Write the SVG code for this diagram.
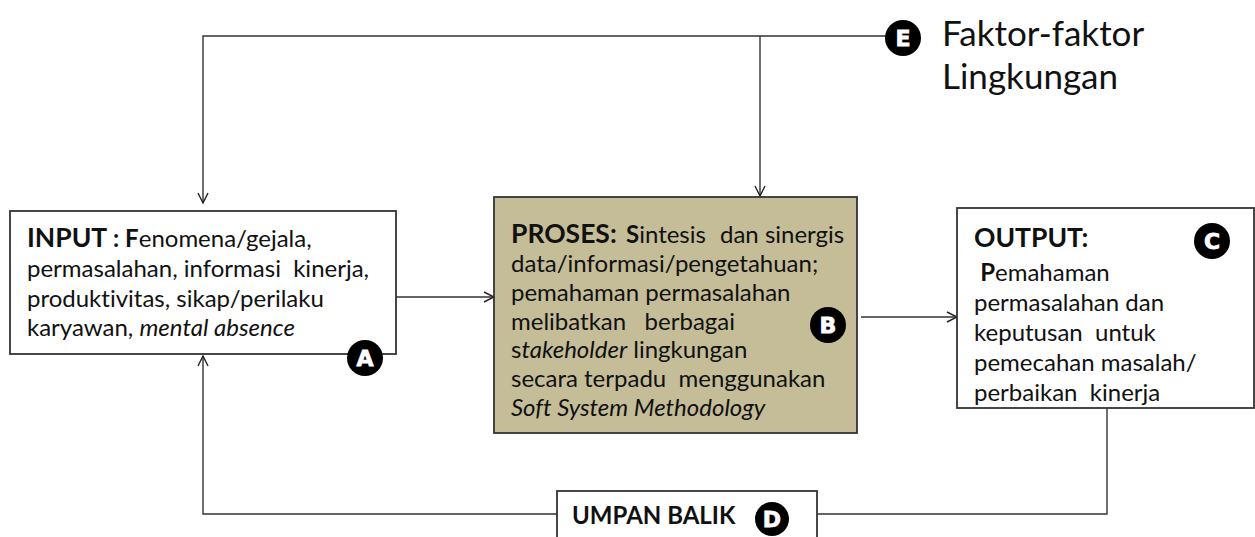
<svg xmlns="http://www.w3.org/2000/svg" width="1255" height="537" viewBox="0 0 1255 537">
  <defs>
    <marker id="arrow" viewBox="0 0 12 12" refX="11" refY="6" markerWidth="12" markerHeight="12" markerUnits="userSpaceOnUse" orient="auto">
      <path d="M1,1 L11,6 L1,11" fill="none" stroke="#222" stroke-width="1.4"/>
    </marker>
    <style>
      .box { fill: #ffffff; stroke: #333333; stroke-width: 1.8; }
      .proc { fill: #C4BD97; stroke: #333333; stroke-width: 1.8; }
      .txt { font-family: Lato, "Open Sans", sans-serif; font-size: 24px; fill: #111111; font-variant-ligatures: none; }
      .b { font-weight: bold; }
      .i { font-style: italic; }
      .ttl { font-weight: bold; font-size: 26.5px; }
      .wire { fill: none; stroke: #333333; stroke-width: 1.4; }
      .badge { fill: #000000; }
      .badge-l { font-family: "DejaVu Sans", sans-serif; font-weight: bold; font-size: 22px; fill: #ffffff; stroke: #ffffff; stroke-width: 0.8; text-anchor: middle; }
      .env { font-family: Lato, "Open Sans", sans-serif; font-size: 35px; fill: #111111; font-variant-ligatures: none; }
    </style>
  </defs>

  <rect width="1255" height="537" fill="#ffffff"/>

  <!-- connectors -->
  <g id="connectors">
    <path class="wire" d="M886,36 L203,36 L203,203" marker-end="url(#arrow)"/>
    <path class="wire" d="M760,36 L760,196" marker-end="url(#arrow)"/>
    <path class="wire" d="M396,297 L494,297" marker-end="url(#arrow)"/>
    <path class="wire" d="M861,317 L957,317" marker-end="url(#arrow)"/>
    <path class="wire" d="M1107,408 L1107,514 L817,514"/>
    <path class="wire" d="M557,514 L203,514 L203,356" marker-end="url(#arrow)"/>
  </g>

  <!-- A: input -->
  <g id="node-input">
    <rect class="box" x="10" y="211" width="386" height="143"/>
    <text class="txt" x="27" y="247"><tspan class="ttl">INPUT</tspan><tspan class="b"> : F</tspan>enomena/gejala,</text>
    <text class="txt" x="27" y="277" xml:space="preserve">permasalahan, informasi  kinerja,</text>
    <text class="txt" x="27" y="307">produktivitas, sikap/perilaku</text>
    <text class="txt" x="27" y="336">karyawan, <tspan class="i">mental absence</tspan></text>
    <circle class="badge" cx="365" cy="358" r="18"/>
    <text class="badge-l" x="365" y="366">A</text>
  </g>

  <!-- B: process -->
  <g id="node-process">
    <rect class="proc" x="494" y="197" width="363" height="236"/>
    <text class="txt" x="511" y="243"><tspan class="ttl">PROSES:</tspan><tspan x="626" class="b">S</tspan>intesis<tspan x="720">dan sinergis</tspan></text>
    <text class="txt" x="511" y="272">data/informasi/pengetahuan;</text>
    <text class="txt" x="511" y="301">pemahaman permasalahan</text>
    <text class="txt" x="511" y="330" xml:space="preserve">melibatkan   berbagai</text>
    <text class="txt" x="511" y="358">s<tspan class="i">takeholder</tspan> lingkungan</text>
    <text class="txt" x="511" y="387" xml:space="preserve">secara terpadu  menggunakan</text>
    <text class="txt i" x="511" y="416">Soft System Methodology</text>
    <circle class="badge" cx="828" cy="325" r="18"/>
    <text class="badge-l" x="828" y="333">B</text>
  </g>

  <!-- C: output -->
  <g id="node-output">
    <rect class="box" x="957" y="208" width="297" height="200"/>
    <text class="txt ttl" x="974" y="247">OUTPUT:</text>
    <text class="txt" x="974" y="281" xml:space="preserve"> <tspan class="b">P</tspan>emahaman</text>
    <text class="txt" x="974" y="311">permasalahan dan</text>
    <text class="txt" x="974" y="341" xml:space="preserve">keputusan  untuk</text>
    <text class="txt" x="974" y="371">pemecahan masalah/</text>
    <text class="txt" x="974" y="401" xml:space="preserve">perbaikan  kinerja</text>
    <circle class="badge" cx="1212" cy="241" r="18"/>
    <text class="badge-l" x="1212" y="249">C</text>
  </g>

  <!-- D: feedback -->
  <g id="node-feedback">
    <rect class="box" x="557" y="491" width="260" height="60"/>
    <text class="txt b" x="572" y="524" font-size="22.5">UMPAN BALIK</text>
    <circle class="badge" cx="772" cy="519" r="17"/>
    <text class="badge-l" x="772" y="527">D</text>
  </g>

  <!-- E: environment -->
  <g id="node-environment">
    <circle class="badge" cx="903" cy="38" r="18"/>
    <text class="badge-l" x="903" y="46">E</text>
    <text class="env" x="942" y="46">Faktor-faktor</text>
    <text class="env" x="942" y="89">Lingkungan</text>
  </g>
</svg>
